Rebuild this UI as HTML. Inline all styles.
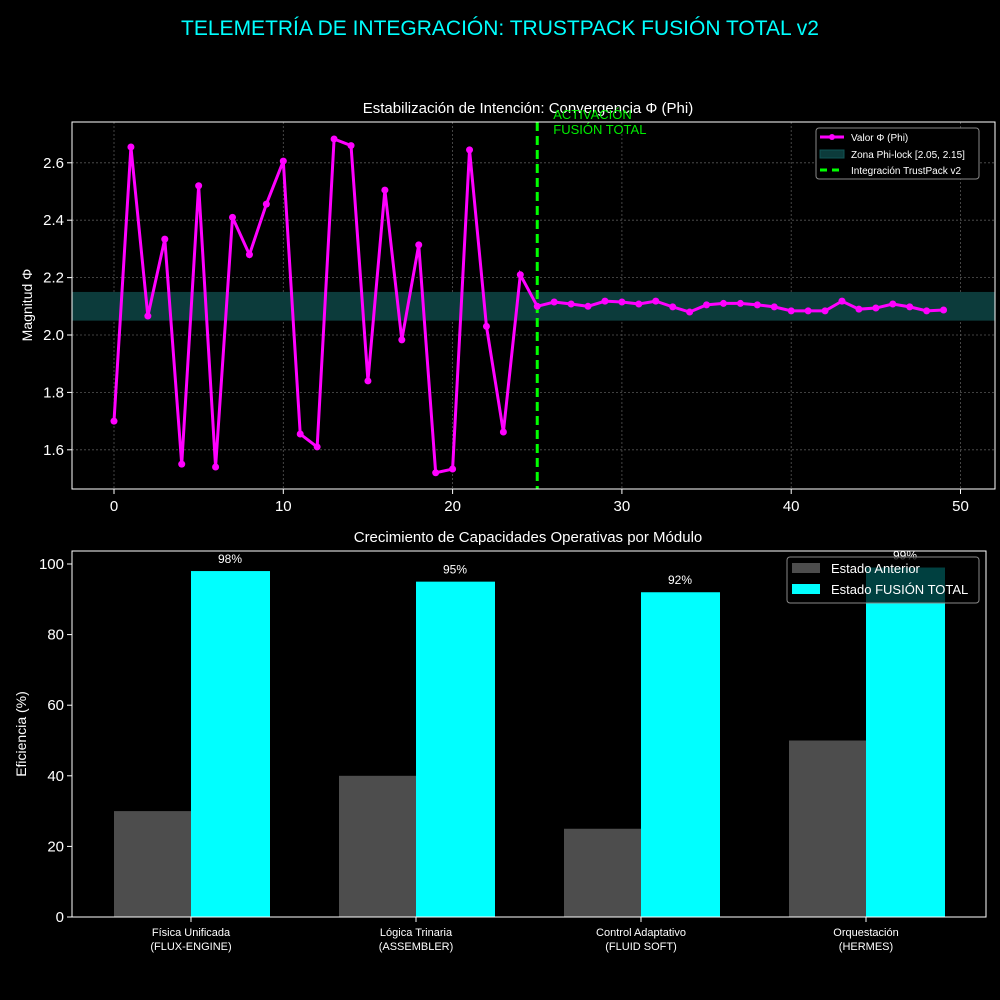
<!DOCTYPE html>
<html><head><meta charset="utf-8">
<style>
html,body{margin:0;padding:0;background:#000;}
svg{display:block;font-family:"Liberation Sans",sans-serif;}
</style></head>
<body>
<svg id="s" width="1000" height="1000" viewBox="0 0 1000 1000">
<rect width="1000" height="1000" fill="#000"/>
<text x="500" y="35" text-anchor="middle" fill="#00ffff" font-size="21">TELEMETRÍA DE INTEGRACIÓN: TRUSTPACK FUSIÓN TOTAL v2</text>
<g id="topg"></g><g id="botg"></g>
</svg>
<script>
const phiValues=[1.70,2.655,2.066,2.334,1.55,2.52,1.54,2.41,2.28,2.456,2.606,1.655,1.61,2.683,2.66,1.84,2.505,1.983,2.314,1.52,1.533,2.645,2.03,1.662,2.21,2.10,2.115,2.108,2.10,2.118,2.115,2.108,2.118,2.098,2.08,2.105,2.11,2.11,2.105,2.098,2.084,2.084,2.084,2.118,2.09,2.094,2.108,2.098,2.084,2.087];
const xTicks=[0,10,20,30,40,50];
const yTicks=[1.6,1.8,2.0,2.2,2.4,2.6];
const band=[2.05,2.15];
const activation=25;
const modules=[["Física Unificada","(FLUX-ENGINE)"],["Lógica Trinaria","(ASSEMBLER)"],["Control Adaptativo","(FLUID SOFT)"],["Orquestación","(HERMES)"]];
const before=[30,40,25,50];
const after=[98,95,92,99];
const barTicks=[0,20,40,60,80,100];

const NS="http://www.w3.org/2000/svg";
function mk(p,t,a,txt){const el=document.createElementNS(NS,t);for(const k in a)el.setAttribute(k,a[k]);if(txt!==undefined)el.textContent=txt;p.appendChild(el);return el;}

const topG=document.getElementById('topg');
const L=72,R=995,T=122,B=489;
const xs=v=>114+(v-0)*16.93;
const ys=v=>335-(v-2.0)*287;
let e;
e=mk(topG,'text',{x:528,y:113,'text-anchor':'middle',fill:'#fff','font-size':15},'Estabilización de Intención: Convergencia Φ (Phi)');


xTicks.forEach(t=>{
 e=mk(topG,'line',{x1:xs(t),x2:xs(t),y1:T,y2:B,stroke:'#555','stroke-dasharray':'2,2','stroke-width':0.8});
 
 
 mk(topG,'line',{x1:xs(t),x2:xs(t),y1:B,y2:B+5,stroke:'#fff'});
 e=mk(topG,'text',{x:xs(t),y:B+22,'text-anchor':'middle',fill:'#fff','font-size':15},t);
 
 
});
yTicks.forEach(t=>{
 e=mk(topG,'line',{x1:L,x2:R,y1:ys(t),y2:ys(t),stroke:'#555','stroke-dasharray':'2,2','stroke-width':0.8});
 
 
 mk(topG,'line',{x1:L-5,x2:L,y1:ys(t),y2:ys(t),stroke:'#fff'});
 e=mk(topG,'text',{x:L-8,y:ys(t)+5,'text-anchor':'end',fill:'#fff','font-size':15},t.toFixed(1));
 
 
});
e=mk(topG,'rect',{x:L,y:ys(band[1]),width:R-L,height:ys(band[0])-ys(band[1]),fill:'#0c3b3b'});


e=mk(topG,'line',{x1:xs(activation),x2:xs(activation),y1:T,y2:B,stroke:'#00ff00','stroke-width':3,'stroke-dasharray':'9,5'});


e=mk(topG,'text',{x:xs(activation)+16,y:119,fill:'#00ee00','font-size':13},'ACTIVACIÓN');


mk(topG,'text',{x:xs(activation)+16,y:134,fill:'#00ee00','font-size':13},'FUSIÓN TOTAL');
e=mk(topG,'polyline',{points:phiValues.map((v,i)=>xs(i)+','+ys(v)).join(' '),fill:'none',stroke:'#ff00ff','stroke-width':3});


phiValues.forEach((v,i)=>{
 e=mk(topG,'circle',{cx:xs(i),cy:ys(v),r:3.5,fill:'#ff00ff'});
 
 
});
mk(topG,'rect',{x:L,y:T,width:R-L,height:B-T,fill:'none',stroke:'#fff','stroke-width':1});
e=mk(topG,'text',{x:32,y:305,fill:'#fff','font-size':14,'text-anchor':'middle',transform:'rotate(-90 32 305)'},'Magnitud Φ');


const lg=mk(topG,'g',{});


mk(lg,'rect',{x:816,y:128,width:163,height:51,rx:3,fill:'#000',stroke:'#888'});
mk(lg,'line',{x1:820,x2:844,y1:137,y2:137,stroke:'#ff00ff','stroke-width':3});
mk(lg,'circle',{cx:832,cy:137,r:3,fill:'#ff00ff'});
mk(lg,'text',{x:851,y:141,fill:'#fff','font-size':10},'Valor Φ (Phi)');
mk(lg,'rect',{x:820,y:150,width:24,height:8,fill:'#0c3b3b',stroke:'#155'});
mk(lg,'text',{x:851,y:158,fill:'#fff','font-size':10},'Zona Phi-lock [2.05, 2.15]');
mk(lg,'line',{x1:820,x2:844,y1:170,y2:170,stroke:'#00ff00','stroke-width':3,'stroke-dasharray':'7,5'});
mk(lg,'text',{x:851,y:174,fill:'#fff','font-size':10},'Integración TrustPack v2');

const botG=document.getElementById('botg');
const BL=72,BR=986,BT=551,BB=917;
const by=v=>917-v*3.53;
const cx=i=>191+i*225;
const bw=77;
e=mk(botG,'text',{x:528,y:542,'text-anchor':'middle',fill:'#fff','font-size':15},'Crecimiento de Capacidades Operativas por Módulo');


barTicks.forEach(t=>{
 mk(botG,'line',{x1:BL-5,x2:BL,y1:by(t),y2:by(t),stroke:'#fff'});
 e=mk(botG,'text',{x:BL-8,y:by(t)+5,'text-anchor':'end',fill:'#fff','font-size':15},t);
 
 
});
modules.forEach((m,i)=>{
 e=mk(botG,'rect',{x:cx(i)-bw,y:by(before[i]),width:bw,height:by(0)-by(before[i]),fill:'#4d4d4d'});
 
 
 e=mk(botG,'rect',{x:cx(i),y:by(after[i]),width:bw+2,height:by(0)-by(after[i]),fill:'#00ffff'});
 
 
 e=mk(botG,'text',{x:cx(i)+39,y:by(after[i])-8,'text-anchor':'middle',fill:'#fff','font-size':12},after[i]+'%');
 
 
 mk(botG,'line',{x1:cx(i),x2:cx(i),y1:BB,y2:BB+5,stroke:'#fff'});
 e=mk(botG,'text',{x:cx(i),y:936,'text-anchor':'middle',fill:'#fff','font-size':11},m[0]);
 
 
 mk(botG,'text',{x:cx(i),y:950,'text-anchor':'middle',fill:'#fff','font-size':11},m[1]);
});
mk(botG,'rect',{x:BL,y:BT,width:BR-BL,height:BB-BT,fill:'none',stroke:'#fff','stroke-width':1});
e=mk(botG,'text',{x:26,y:734,fill:'#fff','font-size':14,'text-anchor':'middle',transform:'rotate(-90 26 734)'},'Eficiencia (%)');


const bl=mk(botG,'g',{});


mk(bl,'rect',{x:787,y:557,width:192,height:46,rx:3,fill:'#000','fill-opacity':0.75,stroke:'#888'});
mk(bl,'rect',{x:792,y:563,width:28,height:10,fill:'#4d4d4d'});
mk(bl,'text',{x:831,y:573,fill:'#fff','font-size':13},'Estado Anterior');
mk(bl,'rect',{x:792,y:584,width:28,height:10,fill:'#00ffff'});
mk(bl,'text',{x:831,y:594,fill:'#fff','font-size':13},'Estado FUSIÓN TOTAL');
</script>
</body></html>
